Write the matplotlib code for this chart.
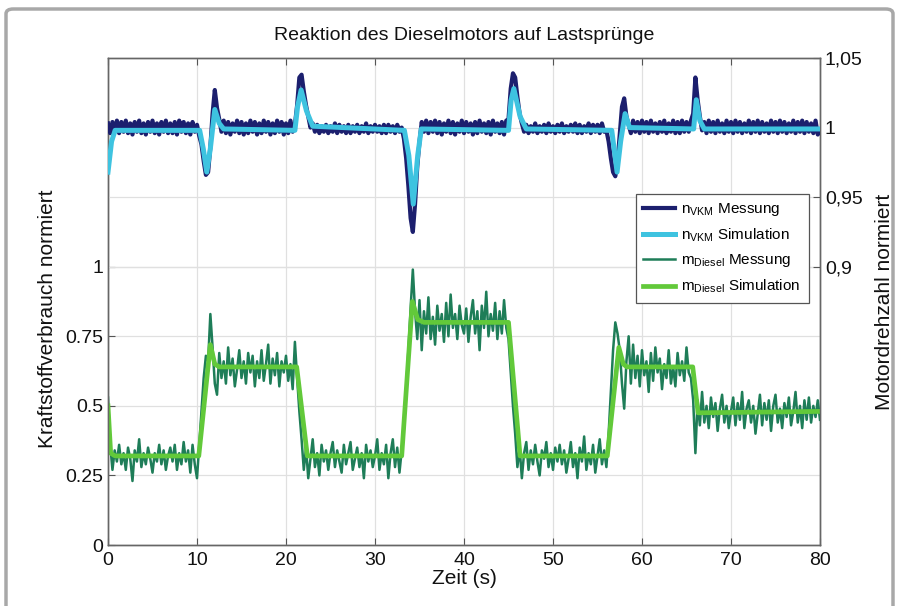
import numpy as np
import matplotlib
matplotlib.use('Agg')
import matplotlib.pyplot as plt
from matplotlib.patches import FancyBboxPatch

plt.rcParams['font.family'] = ['Liberation Sans', 'DejaVu Sans']
plt.rcParams['mathtext.fontset'] = 'custom'
plt.rcParams['mathtext.rm'] = 'Liberation Sans'
plt.rcParams['mathtext.it'] = 'Liberation Sans'

# ---------------- data ----------------
title = "Reaktion des Dieselmotors auf Lastsprünge"
xlabel = "Zeit (s)"
ylabel_left = "Kraftstoffverbrauch normiert"
ylabel_right = "Motordrehzahl normiert"
legend_labels = [r"n$_{\mathrm{VKM}}$ Messung", r"n$_{\mathrm{VKM}}$ Simulation",
                 r"m$_{\mathrm{Diesel}}$ Messung", r"m$_{\mathrm{Diesel}}$ Simulation"]

x_ticks = [0, 10, 20, 30, 40, 50, 60, 70, 80]
left_ticks = [0, 0.25, 0.5, 0.75, 1]
left_ticklabels = ["0", "0.25", "0.5", "0.75", "1"]
right_ticks = [0.9, 0.95, 1.0, 1.05]
right_ticklabels = ["0,9", "0,95", "1", "1,05"]

meas_dt = 0.25  # sample spacing of the measured signals (s)

# fuel consumption, measured (one row = three seconds, 4 samples each)
fuel_meas = [
    0.53, 0.36, 0.27, 0.34,  0.30, 0.36, 0.29, 0.33,  0.27, 0.35, 0.31, 0.23,
    0.34, 0.30, 0.38, 0.28,  0.33, 0.29, 0.35, 0.31,  0.26, 0.33, 0.30, 0.36,
    0.29, 0.34, 0.27, 0.32,  0.35, 0.30, 0.36, 0.27,  0.33, 0.29, 0.37, 0.30,
    0.34, 0.26, 0.36, 0.29,  0.24, 0.36, 0.48, 0.60,  0.68, 0.66, 0.83, 0.71,
    0.58, 0.54, 0.69, 0.60,  0.66, 0.58, 0.71, 0.61,  0.67, 0.57, 0.63, 0.70,
    0.60, 0.66, 0.58, 0.69,  0.62, 0.68, 0.57, 0.66,  0.60, 0.70, 0.59, 0.65,
    0.72, 0.58, 0.67, 0.61,  0.69, 0.57, 0.66, 0.62,  0.68, 0.59, 0.65, 0.56,
    0.73, 0.60, 0.48, 0.38,  0.27, 0.35, 0.24, 0.31,  0.38, 0.28, 0.33, 0.25,
    0.36, 0.30, 0.34, 0.27,  0.33, 0.37, 0.28, 0.34,  0.30, 0.26, 0.36, 0.29,
    0.33, 0.37, 0.27, 0.31,  0.35, 0.28, 0.33, 0.24,  0.36, 0.30, 0.34, 0.28,
    0.32, 0.38, 0.27, 0.33,  0.29, 0.36, 0.24, 0.33,  0.38, 0.28, 0.35, 0.26,
    0.34, 0.42, 0.56, 0.70,  0.85, 0.99, 0.84, 0.74,  0.88, 0.70, 0.84, 0.76,
    0.89, 0.74, 0.82, 0.72,  0.86, 0.77, 0.83, 0.73,  0.87, 0.75, 0.90, 0.78,
    0.83, 0.74, 0.86, 0.79,  0.76, 0.85, 0.73, 0.82,  0.88, 0.76, 0.84, 0.70,
    0.86, 0.78, 0.91, 0.75,  0.83, 0.77, 0.87, 0.74,  0.84, 0.76, 0.88, 0.78,
    0.74, 0.62, 0.50, 0.40,  0.28, 0.35, 0.24, 0.33,  0.37, 0.27, 0.34, 0.29,
    0.36, 0.30, 0.25, 0.34,  0.31, 0.37, 0.28, 0.33,  0.27, 0.35, 0.30, 0.36,
    0.29, 0.34, 0.26, 0.31,  0.37, 0.28, 0.33, 0.24,  0.35, 0.30, 0.39, 0.27,
    0.33, 0.29, 0.36, 0.26,  0.32, 0.38, 0.29, 0.34,  0.28, 0.40, 0.55, 0.70,
    0.80, 0.76, 0.70, 0.58,  0.49, 0.66, 0.75, 0.58,  0.72, 0.60, 0.68, 0.57,
    0.70, 0.61, 0.66, 0.55,  0.69, 0.59, 0.71, 0.62,  0.67, 0.56, 0.65, 0.60,
    0.70, 0.58, 0.64, 0.57,  0.69, 0.61, 0.66, 0.59,  0.71, 0.62, 0.60, 0.52,
    0.33, 0.52, 0.43, 0.55,  0.44, 0.50, 0.42, 0.53,  0.46, 0.51, 0.41, 0.49,
    0.54, 0.44, 0.50, 0.42,  0.48, 0.53, 0.43, 0.51,  0.45, 0.55, 0.42, 0.49,
    0.52, 0.44, 0.50, 0.40,  0.47, 0.54, 0.43, 0.51,  0.45, 0.52, 0.41, 0.50,
    0.54, 0.44, 0.49, 0.42,  0.51, 0.46, 0.53, 0.43,  0.48, 0.55, 0.44, 0.50,
    0.42, 0.52, 0.45, 0.53,  0.44, 0.50, 0.46, 0.52,
    0.45,
]

# fuel consumption, simulated (breakpoints)
fuel_sim_t = [0, 0.3, 0.8, 10.2, 11.5, 12.0, 12.5, 21.2, 22.4, 33.0, 34.2, 34.8,
              35.5, 45.0, 46.3, 56.1, 57.4, 57.9, 58.3, 65.7, 66.3, 80]
fuel_sim_v = [0.50, 0.33, 0.32, 0.32, 0.72, 0.65, 0.64, 0.64, 0.32, 0.32, 0.875, 0.81,
              0.80, 0.80, 0.32, 0.32, 0.71, 0.65, 0.64, 0.64, 0.475, 0.48]

# engine speed, measured (one row = three seconds, 4 samples each)
speed_meas = [
    1.003, 0.996, 1.004, 0.997,  1.005, 0.996, 1.004, 0.997,  1.005, 0.996, 1.003, 0.995,
    1.004, 0.997, 1.005, 0.996,  1.003, 0.995, 1.004, 0.997,  1.005, 0.996, 1.003, 0.995,
    1.004, 0.997, 1.005, 0.996,  1.003, 0.996, 1.004, 0.995,  1.005, 0.997, 1.004, 0.996,
    1.003, 0.995, 1.004, 0.997,  1.002, 0.994, 0.988, 0.976,  0.966, 0.968, 0.986, 1.010,
    1.027, 1.014, 1.006, 0.997,  1.005, 0.996, 1.004, 0.995,  1.003, 0.997, 1.005, 0.996,
    1.004, 0.995, 1.003, 0.996,  1.005, 0.997, 1.004, 0.995,  1.003, 0.996, 1.005, 0.997,
    1.004, 0.995, 1.003, 0.996,  1.005, 0.997, 1.004, 0.995,  1.003, 0.996, 1.005, 0.997,
    1.002, 1.016, 1.036, 1.038,  1.026, 1.016, 1.008, 1.000,  1.003, 0.997, 1.002, 0.996,
    1.001, 0.997, 1.002, 0.996,  1.001, 0.997, 1.003, 0.996,  1.002, 0.997, 1.001, 0.996,
    1.002, 0.996, 1.001, 0.997,  1.002, 0.996, 1.001, 0.997,  1.003, 0.996, 1.001, 0.997,
    1.002, 0.997, 1.001, 0.996,  1.002, 0.996, 1.002, 0.997,  1.001, 0.996, 1.002, 0.997,
    1.000, 0.992, 0.978, 0.958,  0.935, 0.925, 0.945, 0.972,  0.990, 1.004, 0.997, 1.005,
    0.996, 1.004, 0.997, 1.005,  0.996, 1.004, 0.995, 1.003,  0.997, 1.005, 0.996, 1.004,
    0.995, 1.003, 0.997, 1.005,  0.996, 1.004, 0.997, 1.003,  0.995, 1.004, 0.996, 1.005,
    0.997, 1.003, 0.996, 1.004,  0.995, 1.005, 0.997, 1.003,  0.996, 1.004, 0.995, 1.005,
    1.006, 1.028, 1.039, 1.036,  1.022, 1.010, 1.003, 0.997,  1.002, 0.996, 1.001, 0.997,
    1.003, 0.996, 1.001, 0.997,  1.002, 0.996, 1.003, 0.997,  1.001, 0.996, 1.002, 0.997,
    1.003, 0.996, 1.001, 0.997,  1.002, 0.997, 1.003, 0.996,  1.002, 0.996, 1.001, 0.997,
    1.003, 0.996, 1.002, 0.997,  1.002, 0.996, 1.003, 0.997,  0.998, 0.990, 0.978, 0.968,
    0.965, 0.975, 0.995, 1.015,  1.021, 1.008, 1.002, 0.996,  1.005, 0.997, 1.004, 0.996,
    1.005, 0.997, 1.004, 0.996,  1.005, 0.997, 1.003, 0.996,  1.004, 0.997, 1.005, 0.996,
    1.003, 0.997, 1.005, 0.996,  1.004, 0.996, 1.005, 0.997,  1.004, 0.997, 1.005, 1.010,
    1.036, 1.020, 1.008, 0.998,  1.004, 0.996, 1.005, 0.997,
    1.004, 0.996, 1.005, 0.997,  1.003, 0.996, 1.005, 0.997,  1.004, 0.996, 1.005, 0.997,
    1.004, 0.996, 1.003, 0.997,  1.005, 0.996, 1.004, 0.997,  1.005, 0.996, 1.004, 0.997,
    1.003, 0.996, 1.005, 0.997,  1.004, 0.996, 1.005, 0.997,  1.004, 0.996, 1.003, 0.997,
    1.005, 0.996, 1.004, 0.997,  1.005, 0.996, 1.004, 0.997,  1.003, 0.996, 1.005, 0.995,
    0.998,
]

# engine speed, simulated (breakpoints)
speed_sim_t = [0, 0.4, 0.8, 10.3, 10.7, 11.1, 11.5, 12.0, 12.5, 13.0, 21.0, 21.3, 21.7,
               22.3, 23.0, 33.3, 33.8, 34.3, 34.8, 35.2, 45.0, 45.3, 45.6, 46.3, 47.0,
               56.6, 57.2, 57.6, 58.1, 58.6, 65.8, 66.1, 66.5, 67.0, 80]
speed_sim_v = [0.968, 0.990, 0.998, 0.998, 0.985, 0.968, 0.985, 1.013, 1.003, 0.999,
               0.998, 1.015, 1.027, 1.012, 1.001, 0.998, 0.980, 0.945, 0.980, 0.999,
               0.998, 1.020, 1.028, 1.008, 0.999, 0.998, 0.968, 0.990, 1.010, 1.000,
               0.999, 1.020, 1.005, 0.999, 0.999]

# ---------------- plot ----------------
W, H = 902, 606
fig = plt.figure(figsize=(W / 100, H / 100), dpi=100)
fig.patch.set_facecolor('white')

# outer frame
frame = FancyBboxPatch((6 / W, -20 / H), 887 / W, (H - 9 + 20) / H,
                       boxstyle="round,pad=0,rounding_size=0.008",
                       transform=fig.transFigure, facecolor='white',
                       edgecolor='#a8a8a8', linewidth=2.5, zorder=-10)
fig.patches.append(frame)

ax = fig.add_axes([108 / W, 1 - 545 / H, (820 - 108) / W, (545 - 58) / H])
ax2 = ax.twinx()

t_fuel = np.arange(len(fuel_meas)) * meas_dt
t_speed = np.arange(len(speed_meas)) * meas_dt

c_nm = '#1c1f6e'
c_ns = '#3ec3e0'
c_mm = '#1e7d58'
c_ms = '#62c93a'

l3, = ax.plot(t_fuel, fuel_meas, color=c_mm, lw=1.8, zorder=3)
l4, = ax.plot(fuel_sim_t, fuel_sim_v, color=c_ms, lw=3.4, zorder=4)
l1, = ax2.plot(t_speed, speed_meas, color=c_nm, lw=3.0, zorder=3)
l2, = ax2.plot(speed_sim_t, speed_sim_v, color=c_ns, lw=3.6, zorder=4)

ax.set_xlim(0, 80)
ax.set_ylim(0, 1.75)
ax2.set_ylim(0.7, 1.05)

ax.set_xticks(x_ticks)
ax.set_yticks(left_ticks)
ax.set_yticklabels(left_ticklabels)
ax2.set_yticks(right_ticks)
ax2.set_yticklabels(right_ticklabels)

grid_c = '#e0e0e0'
ax.grid(True, color=grid_c, lw=0.9)
ax2.grid(True, axis='y', color=grid_c, lw=0.9)
ax.set_axisbelow(True)
ax2.set_axisbelow(True)

fs_tick = 14
fs_lab = 15
for a in (ax, ax2):
    a.tick_params(direction='in', length=5, width=0.8, colors='#555555',
                  labelcolor='#111111', labelsize=fs_tick, top=True)
    for s in a.spines.values():
        s.set_color('#666666')
        s.set_linewidth(1.0)
ax.tick_params(axis='x', pad=5)

ax.set_xlabel(xlabel, fontsize=fs_lab, color='#111111')
ax.xaxis.set_label_coords(0.5, -(569 - 545) / 487)
ax.set_ylabel(ylabel_left, fontsize=fs_lab, color='#111111')
ax.yaxis.set_label_coords(-0.072, 0.465)
ax2.set_ylabel(ylabel_right, fontsize=fs_lab, color='#111111')
ax2.yaxis.set_label_coords(1.077, 0.50)

fig.text(464 / W, 1 - 35 / H, title, ha='center', va='center', fontsize=14, color='#111111')

leg = ax2.legend([l1, l2, l3, l4], legend_labels, loc='upper left',
                 bbox_to_anchor=((628 - 108) / 712, (545 - 186) / 487),
                 fontsize=11, frameon=True, fancybox=False, framealpha=1,
                 edgecolor='#555555', handlelength=2.1, labelspacing=0.55,
                 borderpad=0.5, handletextpad=0.4)
leg.get_frame().set_linewidth(0.9)

fig.savefig('out.png', dpi=100, facecolor='white')
